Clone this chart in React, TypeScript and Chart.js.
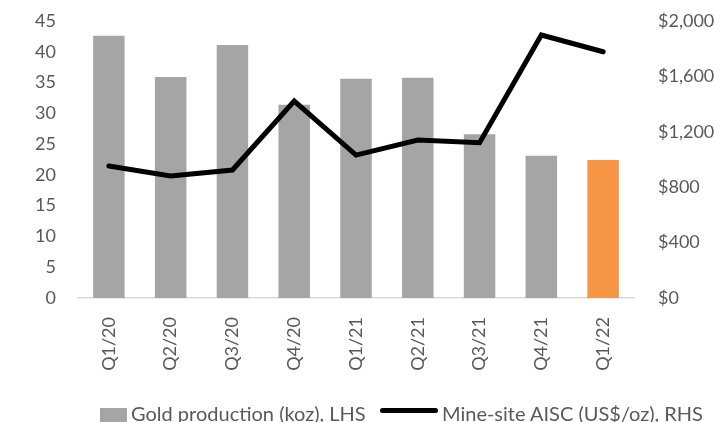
import React, { useEffect, useRef } from "react";
import { Chart, registerables } from "chart.js";

Chart.register(...registerables);

const categories = ["Q1/20", "Q2/20", "Q3/20", "Q4/20", "Q1/21", "Q2/21", "Q3/21", "Q4/21", "Q1/22"];
const goldProduction = [42.6, 35.9, 41.1, 31.4, 35.6, 35.8, 26.6, 23.1, 22.4];
const aisc = [953, 881, 924, 1422, 1032, 1141, 1121, 1899, 1778];
const barColors = ["#A5A5A5", "#A5A5A5", "#A5A5A5", "#A5A5A5", "#A5A5A5", "#A5A5A5", "#A5A5A5", "#A5A5A5", "#F79646"];
const leftTicks = [0, 5, 10, 15, 20, 25, 30, 35, 40, 45];
const rightTicks = [0, 400, 800, 1200, 1600, 2000];
const barLabel = "Gold production (koz), LHS";
const lineLabel = "Mine-site AISC (US$/oz), RHS";

const FONT = "Lato, 'Open Sans', sans-serif";

const zeroPad = (s: any) => {
  s.paddingTop = 0;
  s.paddingBottom = 0;
  s.paddingLeft = 0;
  s.paddingRight = 0;
};

export default function App() {
  const ref = useRef<HTMLCanvasElement | null>(null);

  useEffect(() => {
    document.body.style.margin = "0";
    const ctx = ref.current!.getContext("2d")!;
    const chart = new Chart(ctx, {
      type: "bar",
      data: {
        labels: categories,
        datasets: [
          {
            type: "line",
            label: lineLabel,
            data: aisc,
            yAxisID: "y1",
            borderColor: "#000000",
            borderWidth: 5,
            borderCapStyle: "round",
            pointRadius: 0,
            tension: 0,
            order: 0,
          } as any,
          {
            type: "bar",
            label: barLabel,
            data: goldProduction,
            yAxisID: "y",
            backgroundColor: barColors,
            categoryPercentage: 1,
            barPercentage: 0.51,
            order: 1,
          },
        ],
      },
      options: {
        responsive: false,
        animation: false,
        layout: { padding: { top: 21, left: 0, right: 0, bottom: 0 } },
        plugins: { legend: { display: false }, tooltip: { enabled: false } },
        scales: {
          x: {
            grid: { display: false, drawTicks: false },
            border: { display: true, color: "#D9D9D9", width: 1.5 },
            ticks: {
              minRotation: 90,
              maxRotation: 90,
              padding: 19,
              color: "#595959",
              font: { family: FONT, size: 18 },
            },
            afterFit: (s: any) => {
              s.height = 124;
              zeroPad(s);
            },
          },
          y: {
            position: "left",
            min: 0,
            max: 45,
            afterBuildTicks: (s: any) => {
              s.ticks = leftTicks.map((v) => ({ value: v }));
            },
            grid: { display: false, drawTicks: false },
            border: { display: false },
            ticks: {
              padding: 22,
              color: "#595959",
              font: { family: FONT, size: 18 },
            },
            afterFit: (s: any) => {
              s.width = 78;
              zeroPad(s);
            },
          },
          y1: {
            position: "right",
            min: 0,
            max: 2000,
            afterBuildTicks: (s: any) => {
              s.ticks = rightTicks.map((v) => ({ value: v }));
            },
            grid: { display: false, drawTicks: false },
            border: { display: false },
            ticks: {
              padding: 24,
              color: "#595959",
              font: { family: FONT, size: 18 },
              callback: (v: any) => "$" + Number(v).toLocaleString("en-US"),
            },
            afterFit: (s: any) => {
              s.width = 91;
              zeroPad(s);
            },
          },
        },
      },
    });
    return () => chart.destroy();
  }, []);

  const textStyle: React.CSSProperties = {
    position: "absolute",
    top: 401,
    fontFamily: FONT,
    fontSize: 20,
    color: "#595959",
    lineHeight: "24px",
    whiteSpace: "nowrap",
  };

  return (
    <div style={{ position: "relative", width: 725, height: 422, background: "#fff", overflow: "hidden" }}>
      <canvas ref={ref} width={725} height={422} style={{ position: "absolute", left: 0, top: 0 }} />
      <div style={{ position: "absolute", left: 100, top: 408, width: 27, height: 14, background: "#A5A5A5" }} />
      <div style={{ ...textStyle, left: 131 }}>{barLabel}</div>
      <div style={{ position: "absolute", left: 380, top: 408, width: 58, height: 5, borderRadius: 3, background: "#000" }} />
      <div style={{ ...textStyle, left: 442 }}>{lineLabel}</div>
    </div>
  );
}
